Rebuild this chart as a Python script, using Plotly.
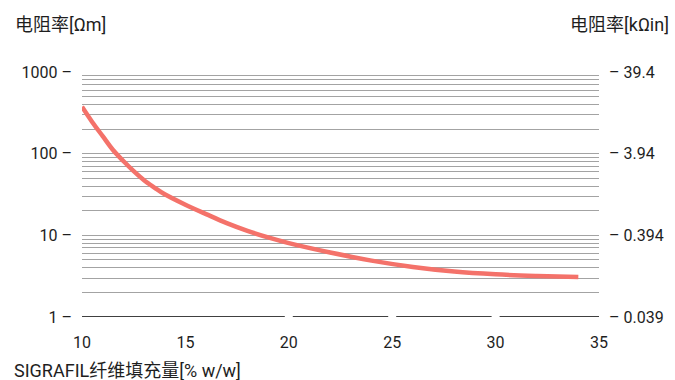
import math
import plotly.graph_objects as go

# Fibre loading [% w/w] and measured resistivity [Ohm*m]
loading = [10, 10.5, 11, 11.5, 12, 12.5, 13, 13.5, 14, 15, 16, 17, 18, 19, 20,
           22, 24, 26, 28, 30, 32, 34]
resistivity = [376, 243, 164, 111, 81.3, 61, 47.3, 38.5, 31.8, 23.7, 18.2, 14.1,
               11.35, 9.44, 8.04, 6.17, 4.9, 4.1, 3.6, 3.33, 3.18, 3.08]

# Axis ticks
x_ticks = [10, 15, 20, 25, 30, 35]
x_gaps = [20, 25, 30]
y_major = [1, 10, 100, 1000]
y_left_text = ["1 –", "10 –", "100 –", "1000 –"]
y_right_text = ["– 0.039", "– 0.394", "– 3.94", "– 39.4"]
OHM_M_TO_KOHM_IN = 0.03937

# minor grid: 1..9 per decade
y_grid = [m * 10 ** d for d in range(3) for m in range(1, 10)] + [1000]
y_grid_text = [y_left_text[y_major.index(v)] if v in y_major else "" for v in y_grid]

FONT = "Roboto, 'Noto Sans CJK SC', sans-serif"
TEXT = "#1e1e1e"

fig = go.Figure()
fig.add_trace(go.Scatter(
    x=loading, y=resistivity, mode="lines",
    line=dict(color="#f4726a", width=4.5, shape="spline", smoothing=1.0),
    showlegend=False, hoverinfo="skip",
))
# secondary (imperial) axis carrier
fig.add_trace(go.Scatter(
    x=loading, y=[r * OHM_M_TO_KOHM_IN for r in resistivity], yaxis="y2",
    mode="lines", line=dict(width=0, color="rgba(0,0,0,0)"),
    showlegend=False, hoverinfo="skip",
))

fig.update_layout(
    width=675, height=380,
    margin=dict(l=82, r=76, t=72, b=63),
    paper_bgcolor="white", plot_bgcolor="white",
    font=dict(family=FONT, size=16, color=TEXT),
    xaxis=dict(
        range=[10, 35], tickvals=x_ticks, showgrid=False, zeroline=False,
        showline=False, ticks="", ticklabelstandoff=14,
    ),
    yaxis=dict(
        type="log", range=[0, 3], tickvals=y_grid, ticktext=y_grid_text,
        showgrid=True, gridcolor="#a3a3a3", gridwidth=1, zeroline=False,
        showline=False, ticks="", ticklabelstandoff=9,
    ),
    yaxis2=dict(
        type="log", overlaying="y", side="right", anchor="x",
        range=[math.log10(OHM_M_TO_KOHM_IN), math.log10(1000 * OHM_M_TO_KOHM_IN)],
        tickvals=[v * OHM_M_TO_KOHM_IN for v in y_major], ticktext=y_right_text,
        showgrid=False, zeroline=False, showline=False, ticks="", ticklabelstandoff=9,
    ),
)

shapes = [dict(type="line", layer="between", xref="paper", x0=0, x1=1,
               yref="y", y0=y_major[0], y1=y_major[0],
               line=dict(color="black", width=1.3))]
for g in x_gaps:
    shapes.append(dict(type="line", layer="between", xref="x", x0=g, x1=g,
                       yref="paper", y0=-0.01, y1=1.01,
                       line=dict(color="white", width=8)))
fig.update_layout(shapes=shapes)

TITLE_FONT = dict(family=FONT, size=18, color=TEXT)
fig.add_annotation(text="电阻率[Ωm]", xref="paper", yref="paper", x=-0.1335, y=1.192,
                   xanchor="left", yanchor="middle", showarrow=False, font=TITLE_FONT)
fig.add_annotation(text="电阻率[kΩin]", xref="paper", yref="paper", x=1.139, y=1.192,
                   xanchor="right", yanchor="middle", showarrow=False, font=TITLE_FONT)
fig.add_annotation(text="SIGRAFIL纤维填充量[% w/w]", xref="paper", yref="paper", x=-0.1354,
                   y=-0.220, xanchor="left", yanchor="middle", showarrow=False, font=TITLE_FONT)

fig.write_html("out.html")
